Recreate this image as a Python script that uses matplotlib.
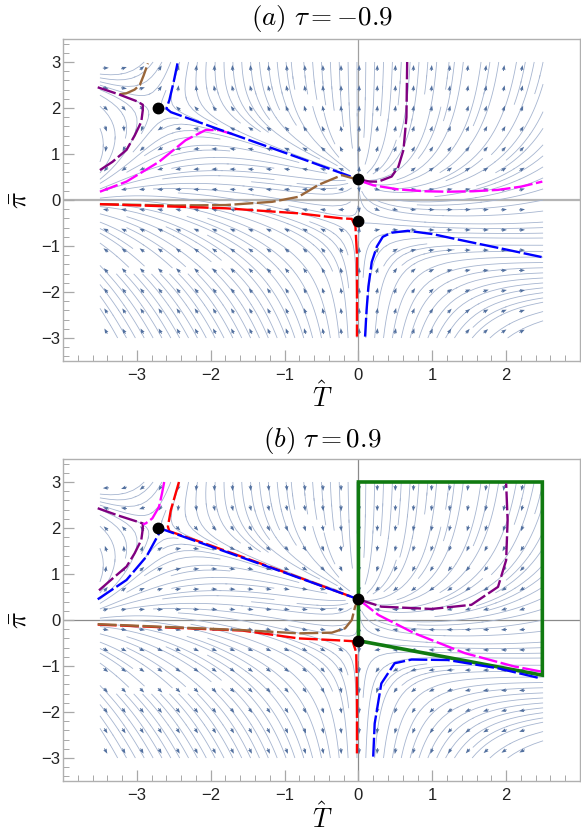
import numpy as np
import matplotlib
matplotlib.use('Agg')
import matplotlib.pyplot as plt

plt.rcParams['mathtext.fontset'] = 'cm'
plt.rcParams['font.family'] = ['Liberation Sans', 'DejaVu Sans']

# fixed points (same in both panels)
fix_T = [0.0, 0.0, -2.72]
fix_pi = [0.45, -0.45, 2.0]

taus = [-0.9, 0.9]
titles = [r'$(a)\ \tau = -0.9$', r'$(b)\ \tau = 0.9$']

# ---- panel (a) curves ----
a_blue1_T = [-2.45, -2.50, -2.56, -2.60, -2.54, -2.0, -1.0, -0.67, 0.0]
a_blue1_pi = [2.97, 2.58, 2.17, 1.99, 1.91, 1.60, 1.03, 0.84, 0.45]
a_purple1_T = [-3.53, -3.25, -2.99, -2.92, -2.92, -2.94, -3.03, -3.14, -3.33, -3.50]
a_purple1_pi = [2.45, 2.30, 2.14, 2.07, 1.95, 1.70, 1.40, 1.09, 0.83, 0.65]
a_brown1_T = [-3.23, -3.14, -3.03, -2.96, -2.91, -2.85]
a_brown1_pi = [2.30, 2.32, 2.40, 2.50, 2.70, 2.97]
a_magenta1_T = [-3.50, -3.14, -2.70, -2.34, -2.07, -1.89, -1.70]
a_magenta1_pi = [0.18, 0.40, 0.83, 1.30, 1.52, 1.52, 1.43]
a_brown2_T = [-3.50, -2.50, -1.80, -1.17, -0.81, -0.54, -0.225, -0.07, 0.0]
a_brown2_pi = [-0.09, -0.12, -0.11, -0.04, 0.07, 0.33, 0.54, 0.47, 0.45]
a_red1_T = [-3.50, -1.80, -0.81, -0.225, -0.09, -0.04, -0.02, -0.02]
a_red1_pi = [-0.09, -0.18, -0.29, -0.40, -0.41, -0.58, -1.2, -2.97]
a_purple2_T = [0.0, 0.15, 0.27, 0.45, 0.54, 0.61, 0.65, 0.66]
a_purple2_pi = [0.45, 0.40, 0.40, 0.51, 0.72, 1.09, 1.80, 3.0]
a_magenta2_T = [0.0, 0.20, 0.54, 0.90, 1.21, 1.55, 1.89, 2.20, 2.49]
a_magenta2_pi = [0.43, 0.32, 0.23, 0.19, 0.18, 0.19, 0.22, 0.29, 0.40]
a_blue2_T = [0.09, 0.11, 0.135, 0.18, 0.25, 0.33, 0.45, 0.67, 1.0, 1.35, 1.98, 2.48]
a_blue2_pi = [-2.97, -2.40, -1.88, -1.35, -1.01, -0.80, -0.71, -0.67, -0.74, -0.86, -1.07, -1.24]

# ---- panel (b) curves ----
b_red1_T = [-2.43, -2.54, -2.58, -2.56, -2.0, -1.0, 0.0]
b_red1_pi = [3.0, 2.39, 2.03, 1.93, 1.62, 1.04, 0.45]
b_blue1_T = [-3.53, -3.14, -2.87, -2.70, -2.63, -2.0, -1.0, 0.0]
b_blue1_pi = [0.45, 0.87, 1.38, 1.88, 1.96, 1.60, 1.03, 0.45]
b_purple1_T = [-3.53, -3.25, -2.92, -2.92, -2.94, -3.03, -3.14, -3.33, -3.53]
b_purple1_pi = [2.43, 2.27, 2.10, 1.98, 1.74, 1.45, 1.16, 0.90, 0.62]
b_magenta1_T = [-2.63, -2.66, -2.70, -2.79, -2.88, -2.92]
b_magenta1_pi = [3.0, 2.75, 2.46, 2.21, 2.10, 2.08]
b_red2_T = [-3.53, -1.57, -0.81, -0.30, -0.08, -0.03, -0.02, -0.02]
b_red2_pi = [-0.10, -0.23, -0.40, -0.44, -0.46, -0.70, -1.5, -2.9]
b_brown1_T = [-3.53, -1.57, -0.81, -0.36, -0.18, -0.09, -0.045, 0.0]
b_brown1_pi = [-0.09, -0.22, -0.29, -0.275, -0.18, 0.0, 0.29, 0.45]
b_purple2_T = [0.0, 0.31, 0.99, 1.53, 1.89, 2.0, 2.02, 2.0]
b_purple2_pi = [0.45, 0.29, 0.24, 0.33, 0.72, 1.30, 2.17, 2.97]
b_magenta2_T = [0.0, 0.27, 0.76, 1.44, 2.11, 2.47]
b_magenta2_pi = [0.45, 0.11, -0.29, -0.72, -1.01, -1.12]
b_blue2_T = [0.20, 0.22, 0.31, 0.49, 0.72, 1.21, 1.89, 2.47]
b_blue2_pi = [-2.97, -2.25, -1.38, -0.94, -0.86, -0.87, -1.05, -1.27]
b_green_T = [0.0, 0.0, 2.49, 2.49, 0.0]
b_green_pi = [-0.45, 3.0, 3.0, -1.2, -0.45]

BLUE, RED, MAGENTA = '#0000ff', '#ff0000', '#ff00ff'
PURPLE, BROWN, GREEN = '#800080', '#99663a', '#107a10'

curves = [
    [(a_brown1_T, a_brown1_pi, BROWN), (a_purple1_T, a_purple1_pi, PURPLE),
     (a_magenta1_T, a_magenta1_pi, MAGENTA), (a_blue1_T, a_blue1_pi, BLUE),
     (a_brown2_T, a_brown2_pi, BROWN), (a_red1_T, a_red1_pi, RED),
     (a_purple2_T, a_purple2_pi, PURPLE), (a_magenta2_T, a_magenta2_pi, MAGENTA),
     (a_blue2_T, a_blue2_pi, BLUE)],
    [(b_red1_T, b_red1_pi, RED), (b_blue1_T, b_blue1_pi, BLUE),
     (b_purple1_T, b_purple1_pi, PURPLE), (b_magenta1_T, b_magenta1_pi, MAGENTA),
     (b_red2_T, b_red2_pi, RED), (b_brown1_T, b_brown1_pi, BROWN),
     (b_purple2_T, b_purple2_pi, PURPLE), (b_magenta2_T, b_magenta2_pi, MAGENTA),
     (b_blue2_T, b_blue2_pi, BLUE)],
]


def field(T, P, tau):
    # qualitative phase field: node at (0, .45), saddles at (0, -.45) and (-2.72, 2)
    k, c = 0.577, 0.45
    P1 = P - c + k * T
    A = 1 + 0.22 * T - 0.2 * P
    h = 0.5 * (1 + np.tanh(2 * T))
    Q = P + c + 0.3 * T * h
    s = 1.6 + 0.6 * np.tanh(2 * T)
    dT = 2 * T * A
    dP = s * P1 * Q - k * (1 - h) * dT
    sgn = -np.sign(tau)
    return sgn * dT, sgn * dP


fig = plt.figure(figsize=(5.81, 8.40), dpi=100)
boxes = [[63 / 581, 1 - 361 / 840, 517 / 581, 322 / 840],
         [63 / 581, 1 - 781 / 840, 517 / 581, 322 / 840]]
title_y = [1 - 19 / 840, 1 - 440 / 840]
xlabel_y = [1 - 397 / 840, 1 - 818 / 840]
xc = 322 / 581

Tg, Pg = np.meshgrid(np.linspace(-3.5, 2.5, 151), np.linspace(-3, 3, 151))
# arrow lattice
Ta, Pa = np.meshgrid(np.arange(-3.42, 2.45, 0.245), np.arange(-2.85, 2.95, 0.44))
px_T, px_pi = 74.2, 46.0   # pixels per data unit

for i, tau in enumerate(taus):
    ax = fig.add_axes(boxes[i])
    U, V = field(Tg, Pg, tau)
    ax.streamplot(Tg, Pg, U, V, density=1.7, color='#a6b5d0', linewidth=0.6,
                  arrowstyle='-', zorder=2)

    Ua, Va = field(Ta, Pa, tau)
    du, dv = Ua * px_T, Va * px_pi
    n = np.hypot(du, dv) + 1e-12
    ax.quiver(Ta, Pa, du / n, dv / n, pivot='mid', units='inches',
              scale_units='inches', scale=1 / 0.06, width=0.009,
              headwidth=4.2, headlength=5.5, headaxislength=5.0,
              color='#52709f', zorder=3)

    # coordinate axes
    if i == 0:
        ax.axhline(0, color='#b4b4b4', lw=1.6, zorder=1)
        ax.axvline(0, color='#a0a0a0', lw=0.9, zorder=1)
    else:
        ax.axhline(0, color='#8a8a8a', lw=0.9, zorder=1)
        ax.axvline(0, color='#8a8a8a', lw=0.9, zorder=1)

    if i == 1:
        ax.plot(b_green_T, b_green_pi, color=GREEN, lw=2.6, zorder=4,
                solid_joinstyle='miter')
    for xs, ys, col in curves[i]:
        ax.plot(xs, ys, color=col, lw=1.7, ls=(0, (8, 1.5)), zorder=5)
    ax.plot(fix_T, fix_pi, 'o', color='black', ms=7.5, zorder=6)

    ax.set_xlim(-4, 3)
    ax.set_ylim(-3.5, 3.5)
    ax.set_xticks([-3, -2, -1, 0, 1, 2])
    ax.set_yticks([-3, -2, -1, 0, 1, 2, 3])
    ax.set_xticklabels(['\u22123', '\u22122', '\u22121', '0', '1', '2'])
    ax.set_yticklabels(['\u22123', '\u22122', '\u22121', '0', '1', '2', '3'])
    ax.set_xticks(np.arange(-4, 3.01, 0.2), minor=True)
    ax.set_yticks(np.arange(-3.4, 3.41, 0.2), minor=True)
    ax.tick_params(which='both', direction='in', color='#a8a8a8',
                   top=False, right=False, labelsize=12, labelcolor='#222222')
    ax.tick_params(which='major', length=8, width=0.9)
    ax.tick_params(which='minor', length=4, width=0.7)
    ax.tick_params(axis='x', pad=5)
    ax.tick_params(axis='y', pad=2)
    for sp in ax.spines.values():
        sp.set_color('#b0b0b0')
        sp.set_linewidth(1.0)

    fig.text(xc, title_y[i], titles[i], ha='center', va='center', fontsize=19.5)
    fig.text(xc, xlabel_y[i], r'$\hat{T}$', ha='center', va='center', fontsize=19)
    yc = boxes[i][1] + boxes[i][3] / 2
    fig.text(0.034, yc, r'$\bar{\pi}$', ha='center', va='center', fontsize=20,
             rotation=90)

fig.savefig('out.png', dpi=100)
